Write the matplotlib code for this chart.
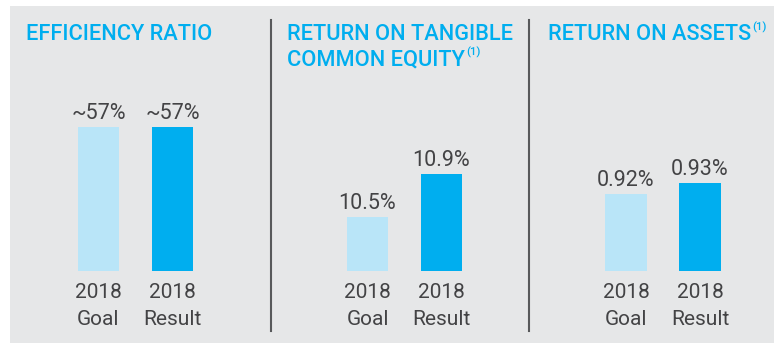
import matplotlib
matplotlib.use("Agg")
import matplotlib.pyplot as plt
from matplotlib.patches import Rectangle
from matplotlib.lines import Line2D

plt.rcParams['font.family'] = ['Roboto', 'DejaVu Sans']

# data
titles = ["EFFICIENCY RATIO", "RETURN ON TANGIBLE\nCOMMON EQUITY", "RETURN ON ASSETS"]
footnote = [False, True, True]
categories = ["2018\nGoal", "2018\nResult"]
efficiency = [57, 57]
rotce = [10.5, 10.9]
roa = [0.92, 0.93]
value_labels = [["~57%", "~57%"], ["10.5%", "10.9%"], ["0.92%", "0.93%"]]
series = [efficiency, rotce, roa]
# panels 2 and 3 use a cut baseline
ylims = [(0, 67.7), (10.0, 11.59), (0.85, 1.0055)]

W, H = 774, 343
light_blue = "#b9e5f8"
blue = "#00aeef"
text_col = "#434345"
bg = "#e6e7e8"

fig = plt.figure(figsize=(W / 100, H / 100), dpi=100)
fig.patch.set_facecolor("white")
fig.patches.append(Rectangle((10 / W, 0), 1, 1 - 6 / H, transform=fig.transFigure,
                             facecolor=bg, edgecolor="none", zorder=-5))

def px(x, y):
    return x / W, 1 - y / H

axes_left = [61.5, 330.5, 589]
title_x = [26, 287, 548]
for i in range(3):
    l, b = px(axes_left[i], 271)
    ax = fig.add_axes([l, b, 148 / W, 171 / H])
    ax.set_zorder(2)
    ax.patch.set_visible(False)
    vals = series[i]
    ax.bar([0, 1], vals, width=0.555, color=[light_blue, blue])
    ax.set_xlim(-0.5, 1.5)
    ax.set_ylim(*ylims[i])
    for s in ax.spines.values():
        s.set_visible(False)
    ax.set_yticks([])
    ax.set_xticks([0, 1])
    ax.set_xticklabels(categories, fontsize=15, color=text_col, fontweight="normal",
                       linespacing=1.5)
    ax.tick_params(axis="x", length=0, pad=9)
    for j, v in enumerate(vals):
        ax.annotate(value_labels[i][j], (j, v), xytext=(0, 6), textcoords="offset points",
                    ha="center", va="baseline", fontsize=15.5, color=text_col,
                    fontweight="normal")

    tx, ty = px(title_x[i], 40)
    t = fig.text(tx, ty, titles[i].split("\n")[0], fontsize=15.7, fontweight="medium",
                 color=blue, va="baseline", ha="left")
    last = t
    if "\n" in titles[i]:
        tx2, ty2 = px(title_x[i], 65)
        last = fig.text(tx2, ty2, titles[i].split("\n")[1], fontsize=15.7,
                        fontweight="medium", color=blue, va="baseline", ha="left")
    if footnote[i]:
        fig.canvas.draw()
        bb = last.get_window_extent()
        fig.text((bb.x1 + 1) / W, (bb.y0 + 15) / H, "(1)", fontsize=8,
                 fontweight="medium", color=blue, va="baseline", ha="left")

# vertical dividers
for x in [270.5, 529]:
    x0, y0 = px(x, 20)
    _, y1 = px(x, 331)
    fig.lines.append(Line2D([x0, x0], [y0, y1], transform=fig.transFigure,
                            color="#58595b", linewidth=1.5))

fig.savefig("out.png", dpi=100, facecolor=fig.get_facecolor())
